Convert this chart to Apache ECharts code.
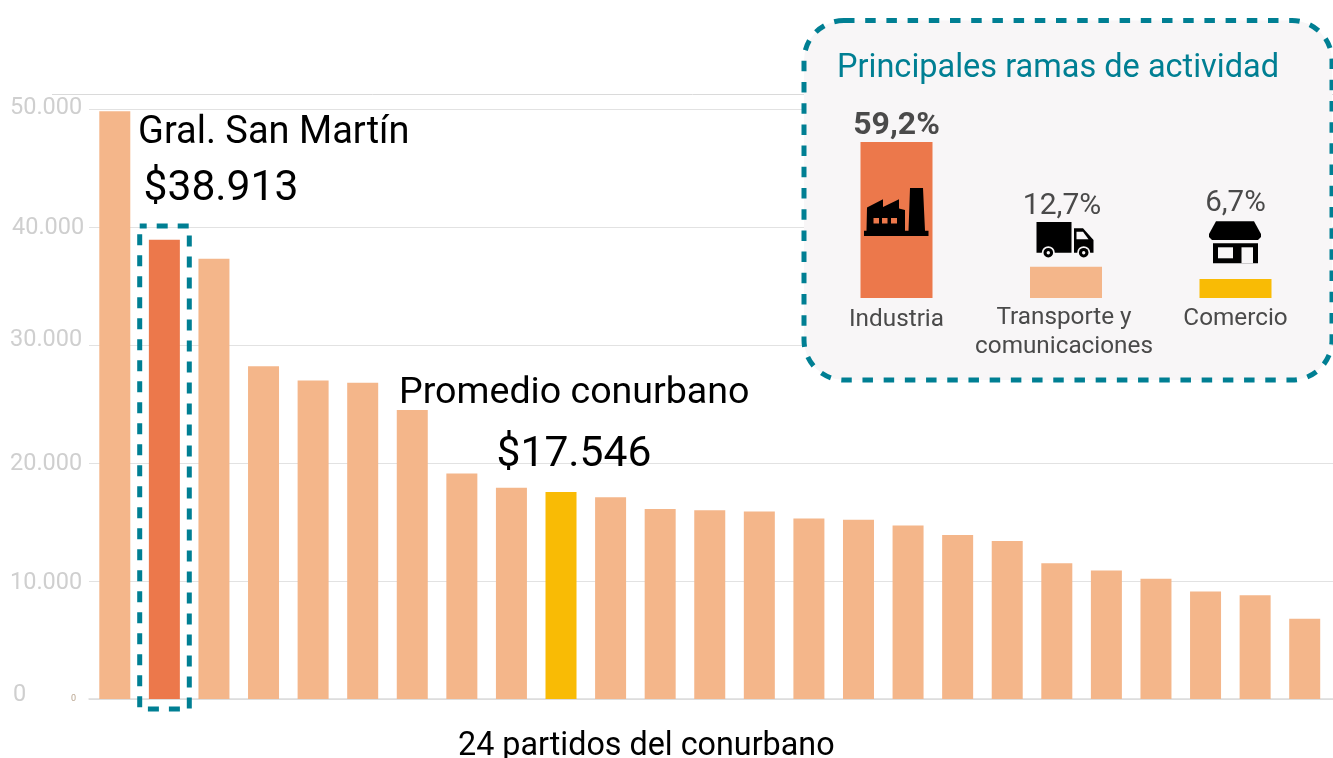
<!DOCTYPE html>
<html><head><meta charset="utf-8">
<style>html,body{margin:0;padding:0;background:#fff;overflow:hidden}#c{width:1333px;height:758px}</style>
<script src="https://cdn.jsdelivr.net/npm/echarts@6/dist/echarts.min.js"></script>
</head><body><div id="c"></div>
<script>
const partidos = ['1','Gral. San Martín','3','4','5','6','7','8','9','Promedio conurbano','11','12','13','14','15','16','17','18','19','20','21','22','23','24','25'];
const ingresos = [49800,38913,37300,28200,27000,26800,24500,19100,17900,17546,17100,16100,16000,15900,15300,15200,14700,13900,13400,11500,10900,10200,9100,8800,6800];
const yTicks = {0:'0',10000:'10.000',20000:'20.000',30000:'30.000',40000:'40.000',50000:'50.000'};
const ramas = ['Industria','Transporte y\ncomunicaciones','Comercio'];
const ramasAltura = [59.2,11.9,7.2];
const ramasTxt = ['59,2%','12,7%','6,7%'];

const PEACH='#F4B68A', ORANGE='#EC784B', YEL='#F9BB05', TEAL='#007F93', BG='#F8F6F7', F='Roboto';
const chart = echarts.init(document.getElementById('c'),null,{renderer:'canvas'});
const txt=(t,x,y,size,fill,extra)=>({type:'text',z:20,style:Object.assign({text:t,x:x,y:y+4,font:size+'px '+F,fill:fill,textAlign:'left',textVerticalAlign:'middle'},extra||{})});
const poly=(z,fill,points)=>({type:'polygon',z:z,shape:{points:points},style:{fill:fill}});
const tickRich={t0:{padding:[0,0,8,3]},t10000:{padding:[4,0,0,0]},t20000:{padding:[2,0,0,0]},t30000:{padding:[0,0,10,0]},t40000:{padding:[2,0,0,2]},t50000:{padding:[0,0,2,0]}};
Object.values(tickRich).forEach(r=>{r.fontFamily=F;r.fontSize=23.5;r.color='#CFCFCF';});

chart.setOption({
  animation:false,
  grid:[
    {left:89,right:0,top:109,height:590},
    {left:90,width:1239.5,top:109,height:590},
    {left:811.75,width:508.5,top:142,height:156}
  ],
  xAxis:[
    {gridIndex:0,type:'category',data:[''],axisLine:{lineStyle:{color:'#DCDCDC',width:1.5}},axisTick:{show:false},axisLabel:{show:false}},
    {gridIndex:1,type:'category',data:partidos,axisLine:{show:false},axisTick:{show:false},axisLabel:{show:false}},
    {gridIndex:2,type:'category',z:12,axisLine:{show:false},axisTick:{show:false},
      data:ramas.map((r,i)=>({value:r,textStyle:{padding:[[2,0,0,0],[0,4,0,0],[1,0,0,0]][i]}})),
      axisLabel:{interval:0,margin:5,fontFamily:F,fontSize:24.3,lineHeight:29,color:'#4A4A4A'}}
  ],
  yAxis:[
    {gridIndex:0,type:'value',min:0,max:50000,interval:10000,axisLine:{show:false},axisTick:{show:false},
      splitLine:{lineStyle:{color:'#E2E2E2',width:1}},
      axisLabel:{align:'left',margin:79,formatter:v=>'{t'+v+'|'+yTicks[v]+'}',rich:tickRich}},
    {gridIndex:1,type:'value',min:0,max:50000,show:false},
    {gridIndex:2,type:'value',min:0,max:59.2,show:false}
  ],
  series:[
    {type:'bar',xAxisIndex:1,yAxisIndex:1,barWidth:31,z:3,
     data:ingresos.map((v,i)=>({value:v,itemStyle:{color:i===1?ORANGE:i===9?YEL:PEACH}}))},
    {type:'bar',xAxisIndex:2,yAxisIndex:2,barWidth:72,z:12,
     data:ramasAltura.map((v,i)=>({value:v,itemStyle:{color:[ORANGE,PEACH,YEL][i]},
       label:{show:true,position:'top',distance:[0,45,60][i],offset:[[0,0],[-4,0],[0,0]][i],formatter:ramasTxt[i],fontFamily:F,fontSize:[32,30,29.5][i],
              fontWeight:i===0?'bold':'normal',color:'#4A4A4A'}}))}
  ],
  graphic:{elements:[
    {type:'line',z:1,shape:{x1:52,y1:94.5,x2:1333,y2:94.5},style:{stroke:'#DADADA',lineWidth:1}},
    {type:'rect',z:10,shape:{x:804,y:20.5,width:528,height:359.5,r:40},style:{fill:BG,stroke:TEAL,lineWidth:5,lineDash:[10.5,10.7]}},
    {type:'rect',z:10,shape:{x:139.7,y:226,width:49.6,height:483},style:{fill:'none',stroke:TEAL,lineWidth:5,lineDash:[11,10],lineDashOffset:4}},
    txt('Principales ramas de actividad',837,65,32.5,TEAL),
    txt('Gral. San Martín',138,129,38,'#000'),
    txt('$38.913',143.5,185,42.6,'#000'),
    txt('Promedio conurbano',399,390,37.6,'#000'),
    txt('$17.546',496.5,451,42.6,'#000'),
    txt('24 partidos del conurbano',458,743,32.3,'#000'),
    txt('0',71,695,9,'#B9A58F'),
    // factory icon
    poly(15,'#000',[[864,236],[864,230.7],[866.5,230.7],[867,207.5],[883,199.3],[883,207],[899,199.3],[899,208.5],[905,210],[905,230.7],[908.5,230.7],[910,188],[923,188],[925,230.7],[928.5,230.7],[928.5,236]]),
    {type:'rect',z:16,shape:{x:873.5,y:218,width:5.5,height:5.5},style:{fill:ORANGE}},
    {type:'rect',z:16,shape:{x:882,y:218,width:5.5,height:5.5},style:{fill:ORANGE}},
    {type:'rect',z:16,shape:{x:891,y:218,width:6,height:5.5},style:{fill:ORANGE}},
    // truck icon
    {type:'rect',z:15,shape:{x:1036.5,y:222,width:35,height:30.7},style:{fill:'#000'}},
    poly(15,'#000',[[1074,228.3],[1083,228.3],[1093.5,240],[1093.5,252.7],[1074,252.7]]),
    poly(16,BG,[[1076.5,231.7],[1083,231.7],[1088.5,239.3],[1076.5,239.3]]),
    {type:'circle',z:16,shape:{cx:1048.3,cy:252.7,r:6.5},style:{fill:BG}},
    {type:'circle',z:16,shape:{cx:1083.7,cy:252.7,r:6.5},style:{fill:BG}},
    {type:'circle',z:17,shape:{cx:1048.3,cy:252.7,r:4.8},style:{fill:'#000'}},
    {type:'circle',z:17,shape:{cx:1083.7,cy:252.7,r:4.8},style:{fill:'#000'}},
    {type:'circle',z:18,shape:{cx:1048.3,cy:252.7,r:1.7},style:{fill:BG}},
    {type:'circle',z:18,shape:{cx:1083.7,cy:252.7,r:1.7},style:{fill:BG}},
    // store icon
    poly(15,'#000',[[1216,221.3],[1254,221.3],[1261,234],[1261,237],[1258,240],[1212,240],[1209,237],[1209,234]]),
    {type:'rect',z:15,shape:{x:1213,y:243.3,width:45,height:20},style:{fill:'#000'}},
    {type:'rect',z:16,shape:{x:1218,y:247.3,width:15,height:11},style:{fill:BG}},
    {type:'rect',z:16,shape:{x:1241.5,y:247.3,width:11.5,height:16},style:{fill:BG}}
  ]}
});
</script></body></html>
